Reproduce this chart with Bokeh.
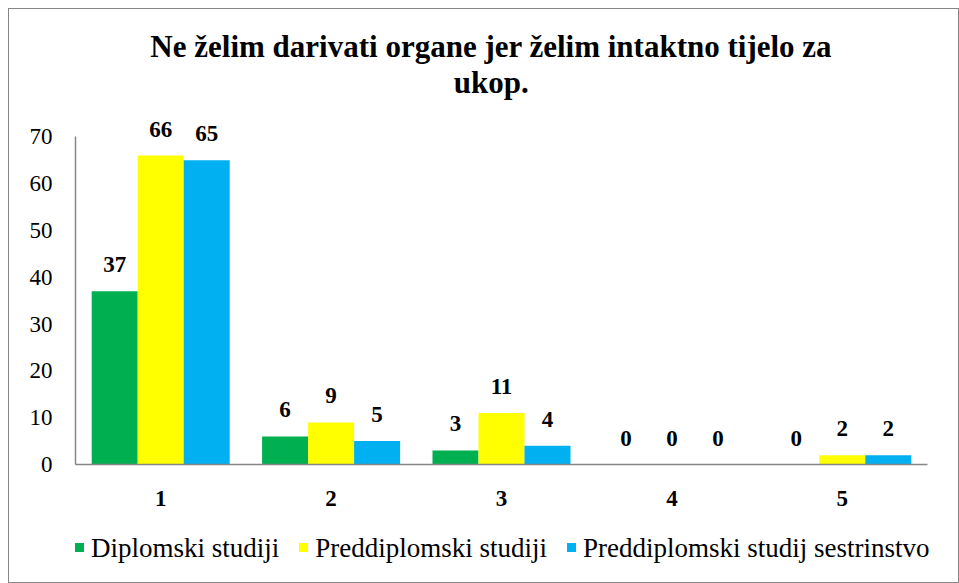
from bokeh.plotting import figure
from bokeh.layouts import column
from bokeh.models import (ColumnDataSource, FactorRange, Range1d, FixedTicker,
                          LabelSet, Label, Div)
from bokeh.core.properties import value
from bokeh.transform import dodge
from bokeh.embed import file_html
from bokeh.resources import INLINE

categories = ["1", "2", "3", "4", "5"]
series_names = ["Diplomski studiji", "Preddiplomski studiji", "Preddiplomski studij sestrinstvo"]
diplomski = [37, 6, 3, 0, 0]
preddiplomski = [66, 9, 11, 0, 2]
sestrinstvo = [65, 5, 4, 0, 2]
y_ticks = [0, 10, 20, 30, 40, 50, 60, 70]
y_max = 70
title_lines = ["Ne želim darivati organe jer želim intaktno tijelo za", "ukop."]

colors = ["#00B050", "#FFFF00", "#00B0F0"]
SERIF = "'Liberation Serif', 'Times New Roman', Times, serif"

# layout (pixels)
W = 949
top_pad, bottom_pad = 10, 45
frame_w, frame_h = 852, 445
axis_px = 327.6           # pixel length of 0..70
y_end = frame_h / axis_px * y_max
legend_h = 73

src = ColumnDataSource(dict(
    cat=categories, a=diplomski, b=preddiplomski, c=sestrinstvo,
    ta=[str(v) for v in diplomski], tb=[str(v) for v in preddiplomski],
    tc=[str(v) for v in sestrinstvo]))

p = figure(x_range=FactorRange(*categories, range_padding=0),
           y_range=Range1d(0, y_end),
           frame_width=frame_w, frame_height=frame_h,
           output_backend="svg", toolbar_location=None,
           min_border_left=66, min_border_right=31,
           min_border_top=top_pad, min_border_bottom=bottom_pad)
p.outline_line_color = None
p.xgrid.visible = False
p.ygrid.visible = False
p.background_fill_color = "white"
p.border_fill_color = "white"

bw = 0.27
offsets = [-bw, 0, bw]
for col, tcol, off, color in zip(["a", "b", "c"], ["ta", "tb", "tc"], offsets, colors):
    p.vbar(x=dodge("cat", off, range=p.x_range), top=col, width=bw,
           source=src, fill_color=color, line_color=None)
    p.add_layout(LabelSet(x=dodge("cat", off, range=p.x_range), y=col, text=tcol,
                          source=src, text_align="center", text_baseline="alphabetic",
                          y_offset=19, text_font=value(SERIF), text_font_size="23px",
                          text_font_style="bold", text_color="black"))

# axes
for ax in (p.xaxis[0], p.yaxis[0]):
    ax.axis_line_color = "#868686"
    ax.axis_line_width = 1.5
    ax.major_tick_line_color = None
    ax.minor_tick_line_color = None
    ax.major_label_text_font = SERIF
    ax.major_label_text_color = "black"
p.yaxis.ticker = FixedTicker(ticks=y_ticks)
p.yaxis.bounds = (0, y_max)
p.yaxis.major_label_text_font_size = "23px"
p.yaxis.major_label_standoff = 17
p.xaxis.major_label_text_font_size = "23px"
p.xaxis.major_label_text_font_style = "bold"
p.xaxis.major_label_standoff = 20

# title lines (data coordinates above the bars)
p.add_layout(Label(x=2.44, y=89.3, text=title_lines[0], text_align="center",
                   text_baseline="alphabetic", text_font=SERIF, text_font_size="31px",
                   text_font_style="bold", text_color="black"))
p.add_layout(Label(x=2.44, y=81.6, text=title_lines[1], text_align="center",
                   text_baseline="alphabetic", text_font=SERIF, text_font_size="31px",
                   text_font_style="bold", text_color="black"))

# legend strip below the chart
parts = []
for i, (name, color) in enumerate(zip(series_names, colors)):
    ml = 0 if i == 0 else 20
    parts.append(
        f'<span style="display:inline-block;width:9px;height:9px;background:{color};'
        f'vertical-align:5px;margin-left:{ml}px;margin-right:7px"></span>'
        f'<span>{name}</span>')
legend_html = (
    '<div style="font-family:' + SERIF.replace("'", "&quot;") + ';font-size:27px;line-height:31px;'
    'white-space:nowrap;padding:24px 0 0 66px;color:black">' + "".join(parts) + '</div>')
legend_div = Div(text=legend_html, width=W, height=legend_h,
                 styles={"margin": "0", "padding": "0", "font-family": SERIF})

layout = column(p, legend_div, spacing=0)
layout.styles = {"border": "1px solid #868686", "margin-left": "8px", "margin-top": "8px"}

open("out.html", "w").write(file_html(layout, INLINE))
